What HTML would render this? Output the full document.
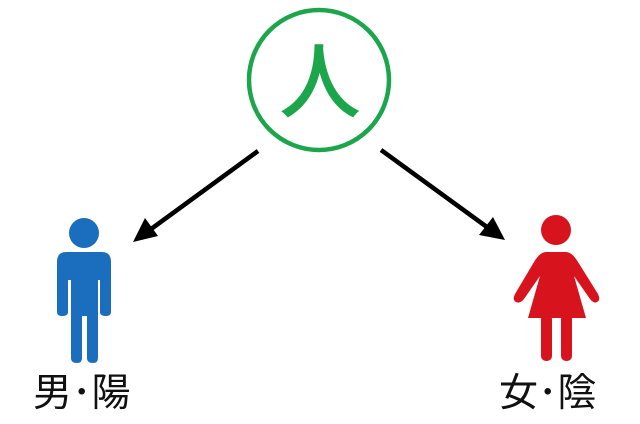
<!DOCTYPE html>
<html><head><meta charset="utf-8"><style>
html,body{margin:0;padding:0;background:#fff;width:640px;height:424px;overflow:hidden}
.l{position:absolute;font-family:"Liberation Sans","Noto Sans CJK JP",sans-serif;font-size:39px;color:#111;line-height:1;white-space:nowrap}
</style></head><body>
<svg width="640" height="424" style="position:absolute;left:0;top:0">
<circle cx="319" cy="80" r="70" fill="none" stroke="#1ca64c" stroke-width="4.5"/>
<text x="320" y="111" text-anchor="middle" font-family="Noto Sans CJK JP,sans-serif" font-weight="500" font-size="82" fill="#1ca64c">人</text>
<line x1="258" y1="151" x2="147" y2="232" stroke="#000" stroke-width="4.5"/>
<path d="M133,242 L145,218 L158,236 Z" fill="#000"/>
<line x1="381" y1="150" x2="491" y2="230" stroke="#000" stroke-width="4.5"/>
<path d="M505,240 L479,235 L493,217 Z" fill="#000"/>
<g fill="#1b6dbd">
<circle cx="84" cy="233" r="15"/>
<path d="M66,252 H102 Q111,252 111,262 V312 Q111,316 106,316 Q100,316 100,312 V280 H98 V358 Q98,363 93,363 Q87,363 87,358 V316 H82 V358 Q82,363 77,363 Q71,363 71,358 V280 H68 V312 Q68,316 62,316 Q57,316 57,312 V262 Q57,252 66,252 Z"/>
</g>
<g fill="#d7141e">
<circle cx="556" cy="230" r="15"/>
<path d="M546,252 H566 Q572,252 578,262 L598,294 Q601,300 597,302 Q594,304 590,299 L574,276 L586,318 H528 L540,276 L524,299 Q520,304 516,302 Q512,300 515,294 L534,262 Q540,252 546,252 Z"/>
<rect x="541" y="314" width="11" height="47" rx="5"/>
<rect x="561" y="314" width="11" height="47" rx="5"/>
</g>
</svg>
<div class="l" style="left:33px;top:374px">男･陽</div>
<div class="l" style="left:499px;top:374px">女･陰</div>
</body></html>
